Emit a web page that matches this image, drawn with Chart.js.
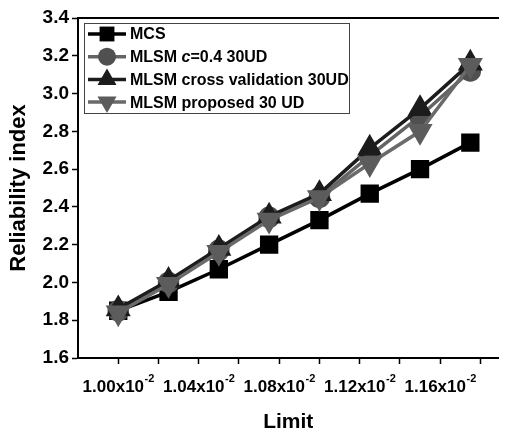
<!DOCTYPE html>
<html>
<head>
<meta charset="utf-8">
<script src="https://cdn.jsdelivr.net/npm/chart.js@4.4.1/dist/chart.umd.min.js"></script>
<style>
  body { margin: 0; background: #fff; }
  canvas { display: block; }
</style>
</head>
<body>
<canvas id="chart" width="513" height="437"></canvas>
<script>
// data
const limits = [0.01, 0.01025, 0.0105, 0.01075, 0.011, 0.01125, 0.0115, 0.01175];
const mcs = [1.85, 1.95, 2.07, 2.20, 2.33, 2.47, 2.60, 2.74];
const mlsmC04 = [1.85, 2.00, 2.17, 2.345, 2.45, 2.67, 2.88, 3.12];
const mlsmCross = [1.86, 2.01, 2.18, 2.35, 2.47, 2.71, 2.92, 3.16];
const mlsmProposed = [1.84, 1.99, 2.16, 2.33, 2.45, 2.63, 2.80, 3.15];

const xMajorTicks = [0.0100, 0.0104, 0.0108, 0.0112, 0.0116];
const xMinorTicks = [0.0102, 0.0106, 0.0110, 0.0114, 0.0118];
const yMajorTicks = [1.6, 1.8, 2.0, 2.2, 2.4, 2.6, 2.8, 3.0, 3.2, 3.4];
const yMinorTicks = [1.7, 1.9, 2.1, 2.3, 2.5, 2.7, 2.9, 3.1, 3.3];

const FONT = "'Liberation Sans', Arial, sans-serif";

function pts(ys) { return ys.map((y, i) => ({ x: limits[i], y: y })); }

function drawMarker(ctx, style, r, rot, x, y, fill) {
  ctx.beginPath();
  if (style === 'rect') {
    const s = r * Math.SQRT1_2;
    ctx.rect(x - s, y - s, 2 * s, 2 * s);
  } else if (style === 'circle') {
    ctx.arc(x, y, r, 0, Math.PI * 2);
  } else {
    const a0 = (rot || 0) * Math.PI / 180;
    for (let k = 0; k < 3; k++) {
      const a = a0 + k * 2 * Math.PI / 3;
      const px = x + Math.sin(a) * r, py = y - Math.cos(a) * r;
      if (k === 0) ctx.moveTo(px, py); else ctx.lineTo(px, py);
    }
  }
  ctx.closePath();
  ctx.fillStyle = fill;
  ctx.fill();
}

// legend drawn inside the plot, like the original figure
const insideLegend = {
  id: 'insideLegend',
  afterDraw(chart) {
    const ctx = chart.ctx;
    ctx.save();
    ctx.fillStyle = '#fff';
    ctx.fillRect(84, 23, 265, 90);
    ctx.strokeStyle = '#444';
    ctx.lineWidth = 1;
    ctx.strokeRect(84.5, 23.5, 265, 90);
    chart.data.datasets.forEach((ds, i) => {
      const y = 34 + i * 22.7;
      ctx.beginPath();
      ctx.moveTo(88, y);
      ctx.lineTo(126, y);
      ctx.strokeStyle = ds.borderColor;
      ctx.lineWidth = 3.5;
      ctx.stroke();
      drawMarker(ctx, ds.pointStyle, ds.pointRadius, ds.pointRotation, 107, y, ds.pointBackgroundColor);
      ctx.fillStyle = '#000';
      ctx.textBaseline = 'middle';
      ctx.textAlign = 'left';
      let x = 130;
      const parts = ds.label.includes(' c=')
        ? [['MLSM ', false], ['c', true], [ds.label.split(' c')[1], false]]
        : [[ds.label, false]];
      parts.forEach(([t, it]) => {
        ctx.font = (it ? 'italic ' : '') + 'bold 16px ' + FONT;
        ctx.fillText(t, x, y + 1);
        x += ctx.measureText(t).width;
      });
    });
    ctx.restore();
  }
};

// x tick labels with a real superscript exponent
const xTickLabels = {
  id: 'xTickLabels',
  afterDraw(chart) {
    const sc = chart.scales.x, ctx = chart.ctx;
    ctx.save();
    ctx.fillStyle = '#000';
    ctx.textBaseline = 'alphabetic';
    ctx.textAlign = 'left';
    xMajorTicks.forEach(v => {
      const main = (v * 100).toFixed(2) + 'x10';
      const sup = '-2';
      ctx.font = 'bold 17px ' + FONT;
      const w1 = ctx.measureText(main).width;
      ctx.font = 'bold 11px ' + FONT;
      const w2 = ctx.measureText(sup).width;
      const x0 = sc.getPixelForValue(v) - (w1 + w2) / 2;
      ctx.font = 'bold 17px ' + FONT;
      ctx.fillText(main, x0, 392);
      ctx.font = 'bold 11px ' + FONT;
      ctx.fillText(sup, x0 + w1 + 0.5, 382);
    });
    ctx.restore();
  }
};

const tickGrid = { display: true, drawOnChartArea: false, drawTicks: true, tickLength: 6, tickColor: '#000', tickWidth: 1.5 };

new Chart(document.getElementById('chart'), {
  type: 'line',
  data: {
    datasets: [
      { label: 'MCS', data: pts(mcs), borderColor: '#000', pointBackgroundColor: '#000', pointBorderColor: '#000',
        pointStyle: 'rect', pointRadius: 10.5, borderWidth: 3.5, order: 4 },
      { label: 'MLSM c=0.4 30UD', data: pts(mlsmC04), borderColor: '#646464', pointBackgroundColor: '#505050', pointBorderColor: '#505050',
        pointStyle: 'circle', pointRadius: 9, borderWidth: 3.5, order: 3 },
      { label: 'MLSM cross validation 30UD', data: pts(mlsmCross), borderColor: '#1c1c1c', pointBackgroundColor: '#1c1c1c', pointBorderColor: '#1c1c1c',
        pointStyle: 'triangle', pointRadius: 11, borderWidth: 3.5, order: 2 },
      { label: 'MLSM proposed 30 UD', data: pts(mlsmProposed), borderColor: '#6a6a6a', pointBackgroundColor: '#5c5c5c', pointBorderColor: '#5c5c5c',
        pointStyle: 'triangle', pointRotation: 180, pointRadius: 11, borderWidth: 3.5, order: 1 }
    ]
  },
  options: {
    responsive: false,
    animation: false,
    devicePixelRatio: 1,
    layout: { padding: 0 },
    plugins: { legend: { display: false }, tooltip: { enabled: false } },
    elements: { line: { tension: 0 }, point: { borderWidth: 1 } },
    scales: {
      x: {
        type: 'linear', position: 'bottom', min: 0.0098, max: 0.01189,
        afterBuildTicks: s => { s.ticks = xMajorTicks.concat(xMinorTicks).sort((a, b) => a - b).map(v => ({ value: v })); },
        afterFit: s => { s.height = 79; },
        ticks: { callback: () => '' },
        grid: tickGrid,
        border: { display: true, color: '#000', width: 2 },
        title: { display: true, text: 'Limit', color: '#000', font: { family: FONT, size: 21, weight: 'bold' }, padding: { top: 0, bottom: 2 } }
      },
      x2: {
        type: 'linear', position: 'top', min: 0.0098, max: 0.01189,
        ticks: { display: false },
        grid: { display: false },
        border: { display: true, color: '#000', width: 2 },
        afterFit: s => { s.height = 18; }
      },
      y: {
        type: 'linear', min: 1.6, max: 3.4,
        afterBuildTicks: s => { s.ticks = yMajorTicks.concat(yMinorTicks).sort((a, b) => a - b).map(v => ({ value: v })); },
        afterFit: s => { s.width = 78; },
        ticks: {
          color: '#000', padding: 3, font: { family: FONT, size: 19, weight: 'bold' },
          callback: v => yMajorTicks.some(t => Math.abs(t - v) < 1e-6) ? v.toFixed(1) : ''
        },
        grid: tickGrid,
        border: { display: true, color: '#000', width: 2 },
        title: { display: true, text: 'Reliability index', color: '#000', font: { family: FONT, size: 22, weight: 'bold' }, padding: { top: 6 } }
      }
    }
  },
  plugins: [insideLegend, xTickLabels]
});
</script>
</body>
</html>
